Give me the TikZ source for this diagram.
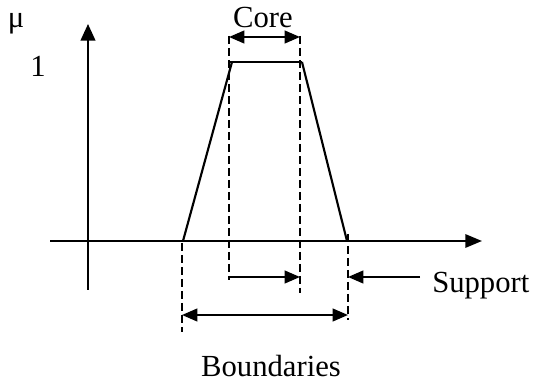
\documentclass[tikz,border=0pt]{standalone}
\usepackage{fontspec}
\setmainfont{Liberation Serif}
\usetikzlibrary{arrows.meta}
\begin{document}
\begin{tikzpicture}[x=0.75pt,y=-0.75pt,
  line/.style={line width=1.6pt},
  dsh/.style={line width=1.6pt,dash pattern=on 6pt off 3pt},
  arr/.style={line width=1.6pt,-{Triangle[length=11.5pt,width=9.5pt]}},
  darr/.style={line width=1.6pt,{Triangle[length=11.5pt,width=9.5pt]}-{Triangle[length=11.5pt,width=9.5pt]}},
  lbl/.style={inner sep=0pt,anchor=base,font=\fontsize{23}{27}\selectfont}]
\useasboundingbox (0,0) rectangle (537,385);
% axes
\coordinate (xs) at (50,241);
\coordinate (xe) at (482,241);
\coordinate (ys) at (88,290);
\coordinate (ye) at (88,24);
\draw[arr,-{Triangle[length=12.5pt,width=10pt]}] (xs) -- (xe);
\draw[arr,-{Triangle[length=12.5pt,width=11pt]}] (ys) -- (ye);
% trapezoid
\coordinate (b1) at (183,241);
\coordinate (t1) at (232,62);
\coordinate (t0) at (228,62);
\coordinate (t2) at (302,62);
\coordinate (b2) at (347,241);
\draw[line] (b1) -- (t1);
\draw[line] (t0) -- (t2);
\draw[line] (t2) -- (b2);
% dashed guides
\coordinate (cl1) at (229,36);  \coordinate (cl2) at (229,280);
\coordinate (cr1) at (300,36);  \coordinate (cr2) at (300,293);
\coordinate (sr1) at (348,234); \coordinate (sr2) at (348,320);
\coordinate (bl1) at (182,243); \coordinate (bl2) at (182,332);
\draw[dsh] (cl1) -- (cl2);
\draw[dsh] (cr1) -- (cr2);
\draw[dsh] (sr1) -- (sr2);
\draw[dsh] (bl1) -- (bl2);
% arrows
\coordinate (ca) at (229,37); \coordinate (cb) at (300,37);
\draw[darr] (ca) -- (cb);
\coordinate (sa) at (229,277); \coordinate (sb) at (300,277);
\draw[arr] (sa) -- (sb);
\coordinate (pa) at (420,277); \coordinate (pb) at (348,277);
\draw[arr] (pa) -- (pb);
\coordinate (ba) at (182,315); \coordinate (bb) at (348,315);
\draw[darr] (ba) -- (bb);
% labels
\node[lbl] (core) at (263,28) {Core};
\node[lbl,anchor=base west] (support) at (432,293) {Support};
\node[lbl] (bound) at (271,377) {Boundaries};
\node[lbl] (one) at (38,77) {1};
\node[lbl] (mu) at (16,28) {μ};
\end{tikzpicture}
\end{document}
